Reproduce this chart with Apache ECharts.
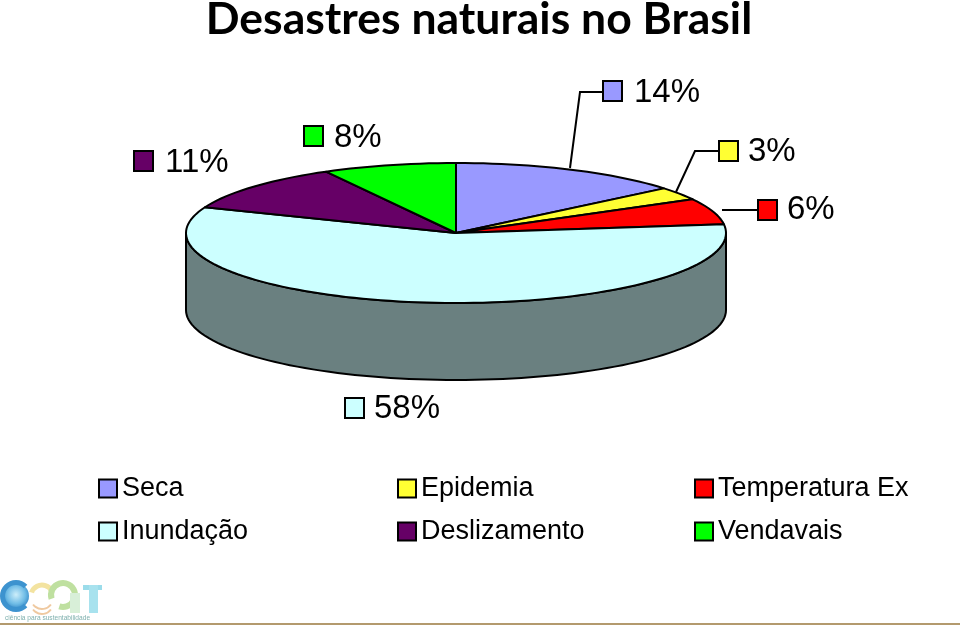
<!DOCTYPE html>
<html><head><meta charset="utf-8">
<style>html,body{margin:0;padding:0;background:#fff}#c{width:960px;height:625px}</style>
<script src="https://cdn.jsdelivr.net/npm/echarts@6/dist/echarts.min.js"></script></head>
<body><div id="c"></div>
<script>
const categories = ['Seca','Epidemia','Temperatura Extrema','Inundação','Deslizamento','Vendavais'];
const values = [14,3,6,58,11,8];
const colors = ['#9999ff','#ffff33','#ff0000','#ccffff','#660066','#00ff00'];
const sideColor = '#6a8080';
const pie = {cx:456, cy:233, rx:270, ry:70, depth:77};
const keys = [
 {kx:603,ky:81,tx:634,ty:93,line:[[570,168],[580,92],[603,92]]},
 {kx:719,ky:141,tx:748,ty:152,line:[[676,192],[695,151],[719,151]]},
 {kx:758,ky:200,tx:787,ty:210,line:[[722,210],[758,210]]},
 {kx:345,ky:398,tx:374,ty:409,line:null},
 {kx:134,ky:151,tx:165,ty:163,line:null},
 {kx:304,ky:126,tx:334,ty:138,line:null}
];
const total = values.reduce((a,b)=>a+b,0);
const pt = (deg,dy=0)=>{const r=deg*Math.PI/180;return [pie.cx+pie.rx*Math.sin(r),pie.cy-pie.ry*Math.cos(r)+dy];};
const arc = (a,b,dy=0)=>{const out=[];const n=Math.max(2,Math.ceil((b-a)/2));for(let i=0;i<=n;i++)out.push(pt(a+(b-a)*i/n,dy));return out;};
const lineStyle={stroke:'#000',lineWidth:2,lineJoin:'round'};
const seriesList = categories.map((name,i)=>({
  name,type:'custom',coordinateSystem:'none',
  itemStyle:{color:colors[i]},
  z: 5,
  data:[[values[i], values.slice(0,i).reduce((a,b)=>a+b,0)]],
  silent:true,
  clip:false,
  renderItem(params,api){
    const a=api.value(1)/total*360, b=a+api.value(0)/total*360;
    const children=[];
    const sa=Math.max(a,90), sb=Math.min(b,270);
    if(sb>sa){
      const front=arc(sa,sb), back=arc(sa,sb,pie.depth).reverse();
      children.push({type:'polygon',z2:1,shape:{points:front.concat(back)},style:{fill:sideColor,...lineStyle}});
    }
    children.push({type:'polygon',z2:2,shape:{points:[[pie.cx,pie.cy]].concat(arc(a,b))},style:{fill:colors[i],...lineStyle}});
    const k=keys[i];
    if(k.line)children.push({type:'polyline',z2:3,shape:{points:k.line},style:{fill:null,stroke:'#000',lineWidth:2}});
    children.push({type:'rect',z2:3,shape:{x:k.kx,y:k.ky,width:19,height:20},style:{fill:colors[i],stroke:'#000',lineWidth:2}});
    children.push({type:'text',z2:3,x:k.tx,y:k.ty,style:{text:api.value(0)+'%',fill:'#000',font:'33px "Liberation Sans"',verticalAlign:'middle',align:'left'}});
    return {type:'group',children};
  }
}));
const legendBase={orient:'vertical',itemWidth:18,itemHeight:18,itemGap:16,selectedMode:false,icon:'rect',
  itemStyle:{borderColor:'#000',borderWidth:2},
  textStyle:{color:'#000',fontFamily:'Liberation Sans',fontSize:27},top:470};
const ring=(cx,cy,r,color,lw,start,end)=>({type:'arc',silent:true,shape:{cx,cy,r,startAngle:start,endAngle:end},style:{fill:null,stroke:color,lineWidth:lw}});
const logo=[
  {type:'circle',silent:true,shape:{cx:16,cy:596,r:13},style:{fill:{type:'radial',x:.5,y:.45,r:.6,colorStops:[{offset:0,color:'#cdeefa'},{offset:.6,color:'#6fbce6'},{offset:1,color:'#2a7fc0'}]}}},
  ring(16,596,13.5,'#3d93cf',5,Math.PI*0.25,Math.PI*1.75),
  ring(42,596,11,'#f3e3a0',5,Math.PI*1.1,Math.PI*1.85),
  ring(42,603,11,'#efc9a0',2,Math.PI*0.2,Math.PI*0.8),
  ring(42,598,11,'#efc9a0',2,Math.PI*0.2,Math.PI*0.8),
  ring(63,595,12,'#bfe0a0',6,Math.PI*0.9,Math.PI*2.6),
  {type:'rect',silent:true,shape:{x:83,y:585,width:19,height:5},style:{fill:'#9bdcea'}},
  {type:'rect',silent:true,shape:{x:89,y:585,width:9,height:28},style:{fill:'#a8e2ee'}},
  {type:'rect',silent:true,shape:{x:70,y:593,width:10,height:20},style:{fill:'#d8efd8'}},
  {type:'text',silent:true,x:5,y:615,style:{text:'ciência para sustentabilidade',fill:'#7fb0ae',font:'6.6px "Liberation Sans"'}},
  {type:'rect',silent:true,shape:{x:0,y:623,width:960,height:2},style:{fill:'#b39a6e'}}
];
const chart=echarts.init(document.getElementById('c'),null,{renderer:'canvas'});
chart.setOption({
  animation:false,backgroundColor:'#fff',
  title:{text:'Desastres naturais no Brasil',left:474,textAlign:'center',top:-8,textStyle:{fontFamily:'Lato',fontWeight:'bold',fontSize:44.5,color:'#000'}},
  legend:[
    {...legendBase,left:93,data:[categories[0],categories[3]]},
    {...legendBase,left:392,data:[categories[1],categories[4]]},
    {...legendBase,left:689,data:[categories[2],categories[5]],textStyle:{...legendBase.textStyle,width:192,overflow:'truncate',ellipsis:''}}
  ],
  graphic:{elements:logo},
  series:seriesList
});
</script></body></html>
